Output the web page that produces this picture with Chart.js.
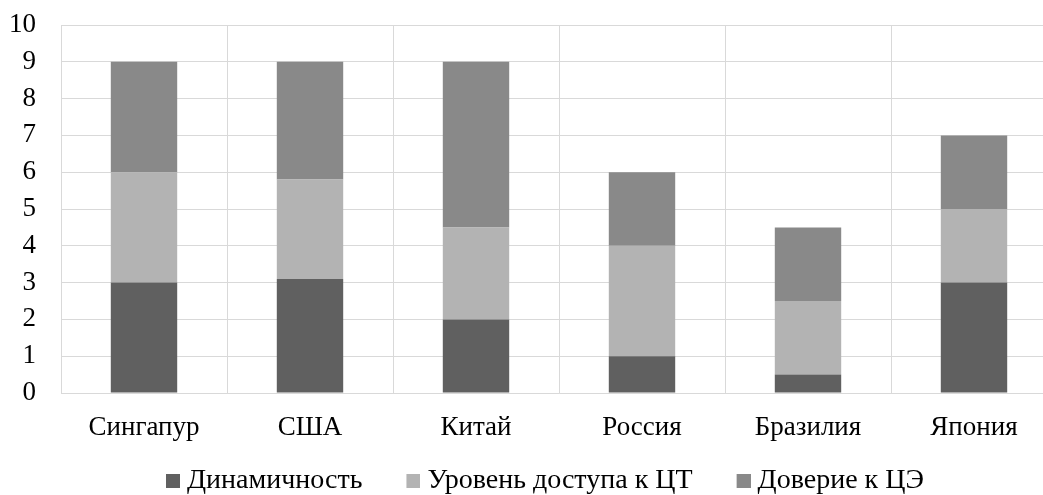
<!DOCTYPE html>
<html>
<head>
<meta charset="utf-8">
<script src="https://cdn.jsdelivr.net/npm/chart.js@4/dist/chart.umd.min.js"></script>
<style>
  html, body { margin: 0; padding: 0; background: #fff; overflow: hidden; width: 1043px; height: 495px; }
  #wrap { position: absolute; left: -21px; top: 0; width: 1078px; height: 495px; }
</style>
</head>
<body>
<div id="wrap"><canvas id="c"></canvas></div>
<script>
const categories = ['Сингапур', 'США', 'Китай', 'Россия', 'Бразилия', 'Япония'];
const seriesNames = ['Динамичность', 'Уровень доступа к ЦТ', 'Доверие к ЦЭ'];
const dynamism = [3, 3.1, 2, 1, 0.5, 3];
const accessLevel = [3, 2.7, 2.5, 3, 2, 2];
const trust = [3, 3.2, 4.5, 2, 2, 2];
const yTicks = [0, 1, 2, 3, 4, 5, 6, 7, 8, 9, 10];

const colors = ['#606060', '#b3b3b3', '#898989'];
const FONT = 'Liberation Serif';
const FS = 27;
const LEG_FS = 28;
const BOX = 14;
const LEG_PAD = 37;

// legend marker: square sitting in the right half of a double-width transparent image
function markerFor(color) {
  const cv = document.createElement('canvas');
  cv.width = BOX * 2;
  cv.height = BOX;
  const g = cv.getContext('2d');
  g.fillStyle = color;
  g.fillRect(BOX, 0, BOX, BOX);
  return cv;
}

const legendPlace = {
  id: 'legendPlace',
  beforeInit(chart) {
    const orig = chart.legend.fit;
    chart.legend.fit = function () {
      orig.call(this);
      this.height = 50;
    };
  },
  afterLayout(chart) {
    const lg = chart.legend;
    lg.left = 180 - LEG_PAD;
    lg.width = lg.right - lg.left;
    lg.top = 481 - LEG_PAD - LEG_FS / 2;
    lg.height = lg.bottom - lg.top;
  }
};

new Chart(document.getElementById('c'), {
  type: 'bar',
  data: {
    labels: categories,
    datasets: [
      { label: seriesNames[0], data: dynamism, backgroundColor: colors[0], pointStyle: markerFor(colors[0]) },
      { label: seriesNames[1], data: accessLevel, backgroundColor: colors[1], pointStyle: markerFor(colors[1]) },
      { label: seriesNames[2], data: trust, backgroundColor: colors[2], pointStyle: markerFor(colors[2]) }
    ]
  },
  options: {
    responsive: true,
    maintainAspectRatio: false,
    animation: false,
    datasets: { bar: { categoryPercentage: 1, barPercentage: 0.4, borderWidth: 0 } },
    layout: { padding: { top: 25, right: 0, bottom: 0, left: 0 } },
    scales: {
      x: {
        stacked: true,
        grid: { color: '#d9d9d9', lineWidth: 1, drawTicks: false, offset: true },
        border: { color: '#d9d9d9', width: 1 },
        ticks: { color: '#000', font: { family: FONT, size: FS }, padding: 19, maxRotation: 0 },
        afterFit(scale) { scale.height = 52; scale.paddingLeft = 0; scale.paddingRight = 0; }
      },
      y: {
        stacked: true,
        min: 0,
        max: 10,
        afterBuildTicks(scale) { scale.ticks = yTicks.map(v => ({ value: v })); },
        grid: { color: '#d9d9d9', lineWidth: 1, drawTicks: false },
        border: { color: '#d9d9d9', width: 1 },
        ticks: { color: '#000', font: { family: FONT, size: FS }, padding: 25 },
        afterFit(scale) { scale.width = 82; scale.paddingTop = 0; scale.paddingBottom = 0; }
      }
    },
    plugins: {
      legend: {
        position: 'bottom',
        align: 'start',
        labels: {
          color: '#000',
          font: { family: FONT, size: LEG_FS },
          usePointStyle: true,
          pointStyleWidth: BOX,
          boxWidth: BOX,
          boxHeight: BOX,
          padding: LEG_PAD
        }
      },
      tooltip: { enabled: false }
    }
  },
  plugins: [legendPlace]
});
</script>
</body>
</html>
